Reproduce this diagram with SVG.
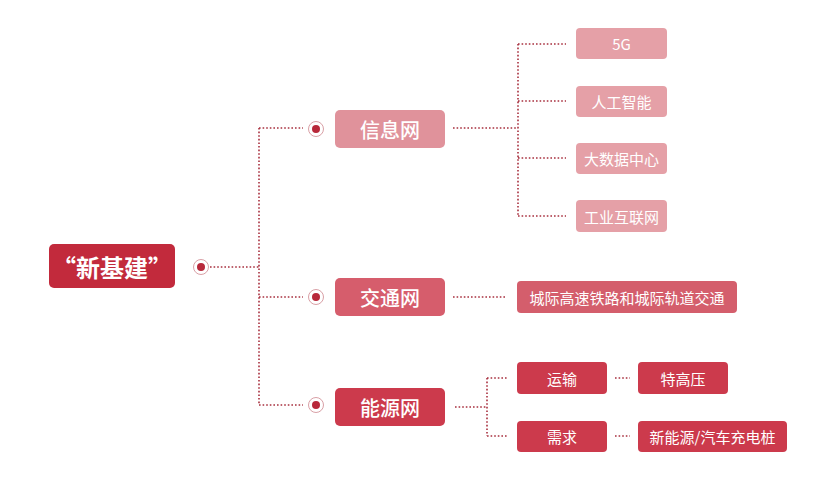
<svg xmlns="http://www.w3.org/2000/svg" width="825" height="500" viewBox="0 0 825 500">
<style>
text{font-family:"Noto Sans CJK SC","Noto Sans",sans-serif;fill:#fff;text-anchor:middle;dominant-baseline:central}
.root{font-size:24px;font-weight:700}
.l2{font-size:20px;font-weight:500}
.l3{font-size:15px}
.dot{fill:none;stroke:#a8303f;stroke-width:1.6;stroke-dasharray:1.6 2}
.ring{fill:#fff;stroke:#d9a0a6;stroke-width:1}
.core{fill:#b8283a}
</style>
<rect width="825" height="500" fill="#fff"/>
<g id="connectors">
<path class="dot" d="M210 267H259M259 128V405M259 128H303M259 297H303M259 405H303"/>
<path class="dot" d="M453 128H518M518 44V216M518 44H566M518 101H566M518 158H566M518 216H566"/>
<path class="dot" d="M453 297H507"/>
<path class="dot" d="M455 407H487M487 378V436M487 378H508M487 436H508"/>
<path class="dot" d="M615 378H630M615 436H630"/>
<g><circle class="ring" cx="201" cy="267" r="7.5"/><circle class="core" cx="201" cy="267" r="4"/></g>
<g><circle class="ring" cx="316" cy="129" r="7.5"/><circle class="core" cx="316" cy="129" r="4"/></g>
<g><circle class="ring" cx="316" cy="297" r="7.5"/><circle class="core" cx="316" cy="297" r="4"/></g>
<g><circle class="ring" cx="316" cy="405" r="7.5"/><circle class="core" cx="316" cy="405" r="4"/></g>
</g>
<g id="root"><rect x="49" y="244" width="126" height="44" rx="5" fill="#c22a3c"/><text class="root" x="112" y="266">“新基建”</text></g>
<g id="info"><rect x="335" y="110" width="110" height="38" rx="5" fill="#e0929b"/><text class="l2" x="390" y="129">信息网</text></g>
<g id="traffic"><rect x="335" y="278" width="110" height="38" rx="5" fill="#d65d6c"/><text class="l2" x="390" y="297">交通网</text></g>
<g id="energy"><rect x="335" y="388" width="110" height="38" rx="5" fill="#cc3a4c"/><text class="l2" x="390" y="407">能源网</text></g>
<g id="n5g"><rect x="576" y="28" width="91" height="31" rx="4" fill="#e5a0a7"/><text class="l3" x="621.5" y="43.5">5G</text></g>
<g id="ai"><rect x="576" y="86" width="91" height="31" rx="4" fill="#e5a0a7"/><text class="l3" x="621.5" y="101.5">人工智能</text></g>
<g id="bigdata"><rect x="576" y="143" width="91" height="31" rx="4" fill="#e5a0a7"/><text class="l3" x="621.5" y="158.5">大数据中心</text></g>
<g id="iiot"><rect x="576" y="200" width="91" height="32" rx="4" fill="#e5a0a7"/><text class="l3" x="621.5" y="216">工业互联网</text></g>
<g id="rail"><rect x="517" y="281" width="220" height="32" rx="4" fill="#d45e6c"/><text class="l3" x="627" y="297">城际高速铁路和城际轨道交通</text></g>
<g id="transport"><rect x="517" y="362" width="90" height="32" rx="4" fill="#cc3a4c"/><text class="l3" x="562" y="378">运输</text></g>
<g id="demand"><rect x="517" y="421" width="90" height="31" rx="4" fill="#cc3a4c"/><text class="l3" x="562" y="436.5">需求</text></g>
<g id="uhv"><rect x="638" y="362" width="90" height="32" rx="4" fill="#cc3a4c"/><text class="l3" x="683" y="378">特高压</text></g>
<g id="charging"><rect x="638" y="421" width="149" height="31" rx="4" fill="#cc3a4c"/><text class="l3" x="712.5" y="436.5">新能源/汽车充电桩</text></g>
</svg>
